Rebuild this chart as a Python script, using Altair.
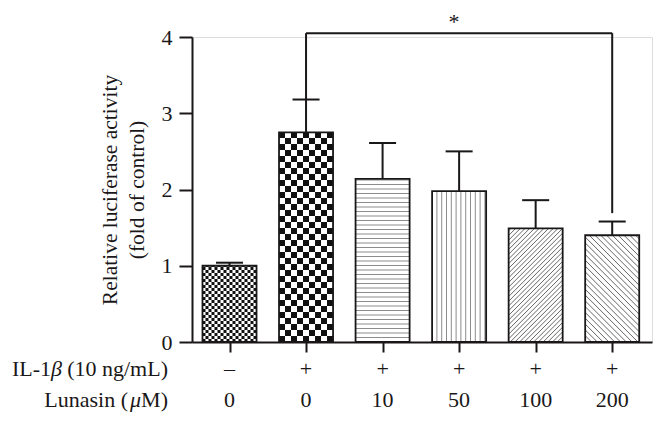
import altair as alt
import numpy as np
import pandas as pd

# ---------------- data ----------------
groups = [0, 1, 2, 3, 4, 5]
il1b_labels = ["–", "+", "+", "+", "+", "+"]
lunasin_labels = ["0", "0", "10", "50", "100", "200"]
means = [1.00, 2.75, 2.14, 1.98, 1.49, 1.40]
sems = [0.04, 0.43, 0.47, 0.52, 0.37, 0.18]
patterns = ["fine-check", "coarse-check", "horizontal", "vertical", "diag-up", "diag-down"]

# significance annotation (group 1 vs group 5)
sig_pair = [1, 5]
sig_level = 4.05
sig_right_end = 1.69
sig_text = "*"

# ---------------- layout ----------------
W, H = 460, 305
X_DOMAIN = [-0.49, 5.52]
Y_DOMAIN = [0, 4]
BAR_HALF = 0.353
UX = (X_DOMAIN[1] - X_DOMAIN[0]) / W   # data units per pixel (x)
UY = (Y_DOMAIN[1] - Y_DOMAIN[0]) / H   # data units per pixel (y)
FONT = "Liberation Serif"
INK = "#1a1718"
FS = 22

xs = alt.Scale(domain=X_DOMAIN, nice=False, zero=False)
ys = alt.Scale(domain=Y_DOMAIN, nice=False)

bars = pd.DataFrame({"g": groups, "mean": means, "sem": sems})
bars["x0"] = bars["g"] - BAR_HALF
bars["x1"] = bars["g"] + BAR_HALF
bars["top"] = bars["mean"] + bars["sem"]
bars["c0"] = bars["g"] - BAR_HALF / 2
bars["c1"] = bars["g"] + BAR_HALF / 2
bars["zero"] = 0.0

# ---------- decorative fill patterns derived from each bar ----------
rects, lines = [], []
for g, m, kind in zip(groups, means, patterns):
    x0, x1 = g - BAR_HALF, g + BAR_HALF
    wpx, hpx = (x1 - x0) / UX, m / UY
    if kind.endswith("check"):
        cell = 3.0 if kind == "fine-check" else 6.0
        ncol, nrow = int(np.ceil(wpx / cell)), int(np.ceil(hpx / cell))
        for r in range(nrow):
            for c in range(ncol):
                if (r + c) % 2 == 0:
                    rects.append(dict(x=x0 + c * cell * UX,
                                      x2=min(x1, x0 + (c + 1) * cell * UX),
                                      y=r * cell * UY,
                                      y2=min(m, (r + 1) * cell * UY)))
    elif kind == "horizontal":
        s = 4.5
        k = 1
        while k * s < hpx - 1:
            lines.append(dict(x=x0, x2=x1, y=k * s * UY, y2=k * s * UY, kind="hv"))
            k += 1
    elif kind == "vertical":
        s = 4.8
        k = 1
        while k * s < wpx - 1:
            lines.append(dict(x=x0 + k * s * UX, x2=x0 + k * s * UX, y=0, y2=m, kind="hv"))
            k += 1
    else:
        s = 4.7 if kind == "diag-up" else 5.8
        c = -hpx + s / 2
        while c < wpx + hpx:
            if kind == "diag-up":      # y = x - c
                a, b = max(0, c), min(wpx, hpx + c)
                if a < b:
                    lines.append(dict(x=x0 + a * UX, x2=x0 + b * UX,
                                      y=(a - c) * UY, y2=(b - c) * UY, kind="d"))
            else:                      # y = c - x
                a, b = max(0, c - hpx), min(wpx, c)
                if a < b:
                    lines.append(dict(x=x0 + a * UX, x2=x0 + b * UX,
                                      y=(c - a) * UY, y2=(c - b) * UY, kind="d"))
            c += s
rects = pd.DataFrame(rects)
lines = pd.DataFrame(lines)

# ---------------- layers ----------------
base_bars = alt.Chart(bars).mark_rect(fill="white").encode(
    x=alt.X("x0:Q", scale=xs, axis=alt.Axis(values=groups, labels=False, tickSize=10, tickWidth=2,
                                            domainWidth=2, domainColor=INK, tickColor=INK,
                                            grid=False, title=None)),
    x2="x1:Q",
    y=alt.Y("zero:Q", scale=ys, axis=alt.Axis(values=[0, 1, 2, 3, 4], format="d", tickSize=13,
                                              tickWidth=2, domainWidth=2, domainColor=INK,
                                              tickColor=INK, grid=False, labelFont=FONT,
                                              labelFontSize=FS, labelColor=INK, labelPadding=7,
                                              title=["Relative luciferase activity", "(fold of control)"],
                                              titleFont=FONT, titleFontSize=21.5, titleFontWeight="normal",
                                              titleColor=INK, titlePadding=13, titleLineHeight=27)),
    y2="mean:Q",
)

check = alt.Chart(rects).mark_rect(fill="#111", strokeWidth=0).encode(
    x=alt.X("x:Q", scale=xs), x2="x2:Q", y=alt.Y("y:Q", scale=ys), y2="y2:Q")

hv = alt.Chart(lines[lines["kind"] == "hv"]).mark_rule(color="#8c8c8c", strokeWidth=1).encode(
    x=alt.X("x:Q", scale=xs), x2="x2:Q", y=alt.Y("y:Q", scale=ys), y2="y2:Q")

dg = alt.Chart(lines[lines["kind"] == "d"]).mark_rule(color="#666", strokeWidth=1).encode(
    x=alt.X("x:Q", scale=xs), x2="x2:Q", y=alt.Y("y:Q", scale=ys), y2="y2:Q")

outline = alt.Chart(bars).mark_rect(filled=False, stroke=INK, strokeWidth=1.8).encode(
    x=alt.X("x0:Q", scale=xs), x2="x1:Q", y=alt.Y("zero:Q", scale=ys), y2="mean:Q")

err_v = alt.Chart(bars).mark_rule(color=INK, strokeWidth=2).encode(
    x=alt.X("g:Q", scale=xs), y=alt.Y("mean:Q", scale=ys), y2="top:Q")
err_cap = alt.Chart(bars).mark_rule(color=INK, strokeWidth=2).encode(
    x=alt.X("c0:Q", scale=xs), x2="c1:Q", y=alt.Y("top:Q", scale=ys))

sig = pd.DataFrame({
    "x": [sig_pair[0], sig_pair[0], sig_pair[1]],
    "x2": [sig_pair[1], sig_pair[0], sig_pair[1]],
    "y": [sig_level, sig_level, sig_level],
    "y2": [sig_level, means[sig_pair[0]] + sems[sig_pair[0]], sig_right_end],
})
bracket = alt.Chart(sig).mark_rule(color=INK, strokeWidth=2).encode(
    x=alt.X("x:Q", scale=xs), x2="x2:Q", y=alt.Y("y:Q", scale=ys), y2="y2:Q")

star = alt.Chart(pd.DataFrame({"x": [sum(sig_pair) / 2], "y": [4.2], "t": [sig_text]})).mark_text(
    font=FONT, fontSize=FS, color=INK, baseline="middle", dx=-5).encode(
    x=alt.X("x:Q", scale=xs), y=alt.Y("y:Q", scale=ys), text="t:N")

rows = pd.DataFrame({"g": groups, "il": il1b_labels, "lu": lunasin_labels})
row_il = alt.Chart(rows).mark_text(font=FONT, fontSize=FS, color=INK, baseline="middle").encode(
    x=alt.X("g:Q", scale=xs), y=alt.value(331.7), text="il:N")
row_lu = alt.Chart(rows).mark_text(font=FONT, fontSize=FS, color=INK, baseline="middle").encode(
    x=alt.X("g:Q", scale=xs), y=alt.value(362.7), text="lu:N")


def piece(text, px, py, italic=False):
    return alt.Chart(pd.DataFrame({"t": [text]})).mark_text(
        font=FONT, fontSize=FS, color=INK, baseline="middle", align="right",
        fontStyle="italic" if italic else "normal").encode(
        x=alt.value(px), y=alt.value(py), text="t:N")


labels = [
    piece("(10 ng/mL)", -24, 331.7),
    piece("β", -130, 331.7, italic=True),
    piece("IL-1", -141, 331.7),
    piece("M)", -24, 362.7),
    piece("μ", -51, 362.7, italic=True),
    piece("Lunasin (", -64, 362.7),
]

chart = alt.layer(base_bars, check, hv, dg, outline, err_v, err_cap, bracket, star,
                  row_il, row_lu, *labels).properties(
    width=W, height=H,
    padding={"left": 184, "top": 29, "right": 2, "bottom": 70},
    autosize=alt.AutoSizeParams(type="none"),
).configure_view(strokeWidth=0).configure(background="white")

chart.save("out.html", embed_options={"renderer": "svg", "actions": False})
